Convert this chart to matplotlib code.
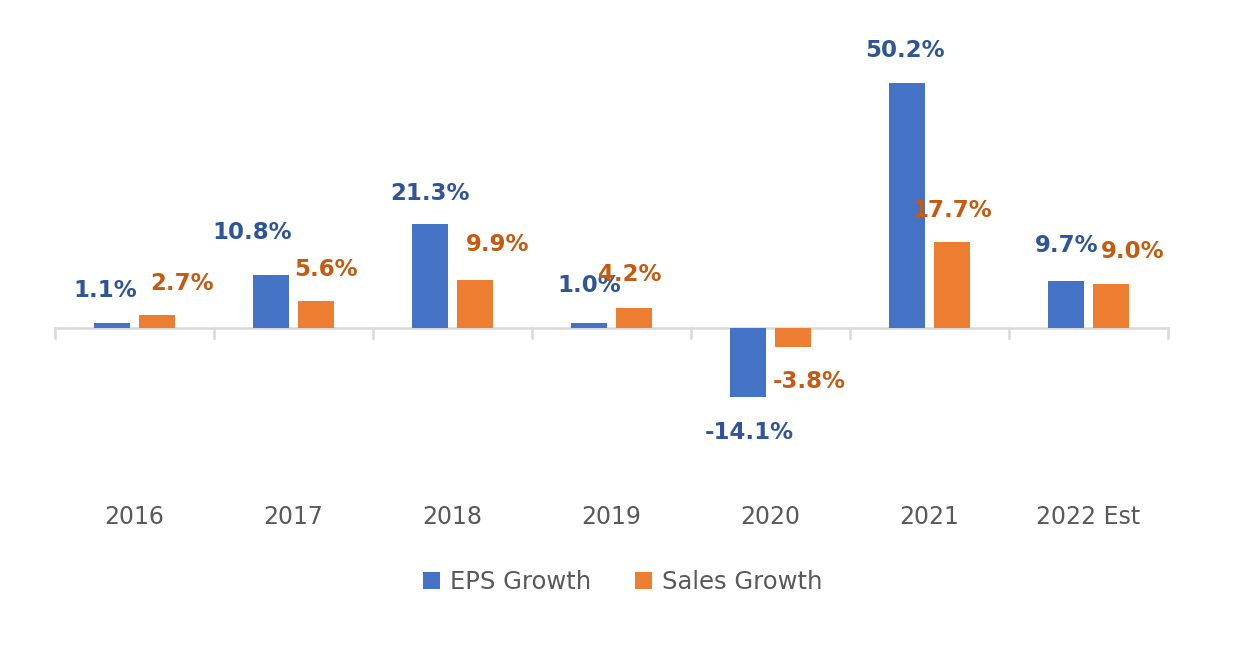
import matplotlib.pyplot as plt
import numpy as np

years = ['2016', '2017', '2018', '2019', '2020', '2021', '2022 Est']
eps_growth = [1.1, 10.8, 21.3, 1.0, -14.1, 50.2, 9.7]
sales_growth = [2.7, 5.6, 9.9, 4.2, -3.8, 17.7, 9.0]

# label nudges in pixels (dx, dy) relative to bar end, as placed in the original
eps_offsets = [(-7, 32), (-19, 43), (0, 31), (0, 38), (1, -36), (-2, 33), (1, 35)]
sales_offsets = [(25, 31), (10, 31), (23, 35), (-4, 33), (16, -35), (0, 31), (22, 33)]

blue = '#4472C4'
orange = '#ED7D31'
blue_txt = '#2F5597'
orange_txt = '#C55A11'

fig = plt.figure(figsize=(12.43, 6.6), dpi=100)
ax = fig.add_axes([55 / 1243, 1 - 470 / 660, (1168 - 55) / 1243, 440 / 660])

x = np.arange(len(years))
w = 0.226
off = 0.1415
b1 = ax.bar(x - off, eps_growth, w, color=blue, label='EPS Growth', zorder=3)
b2 = ax.bar(x + off, sales_growth, w, color=orange, label='Sales Growth', zorder=3)

for bars, vals, offs, col in [(b1, eps_growth, eps_offsets, blue_txt),
                              (b2, sales_growth, sales_offsets, orange_txt)]:
    for bar, v, (dx, dy) in zip(bars, vals, offs):
        ax.annotate(f'{v:.1f}%', (bar.get_x() + bar.get_width() / 2, v),
                    xytext=(dx, dy), textcoords='offset pixels',
                    ha='center', va='center', fontsize=16.5, fontweight='bold',
                    color=col)

ax.set_xlim(-0.5, len(years) - 0.5)
ax.set_ylim(-29.1, 61.07)

for s in ax.spines.values():
    s.set_visible(False)
ax.axhline(0, color='#D9D9D9', lw=1.8, zorder=2)
for xt in np.arange(len(years) + 1) - 0.5:
    ax.plot([xt, xt], [0, -2.1], color='#D9D9D9', lw=1.8, zorder=2, clip_on=False)

ax.set_yticks([])
ax.set_xticks([])
for xi, lab in zip(x, years):
    fig.text((55 + 159 * (xi + 0.5)) / 1243, 1 - 517 / 660, lab, ha='center',
             va='center', fontsize=17, color='#595959')

fig.legend(handles=[b1, b2], loc='center', bbox_to_anchor=(0.501, 1 - 582 / 660),
           ncol=2, frameon=False, fontsize=17.5, labelcolor='#595959',
           handlelength=0.7, handleheight=0.7, handletextpad=0.4, columnspacing=1.8)

fig.savefig('out.png', dpi=100)
